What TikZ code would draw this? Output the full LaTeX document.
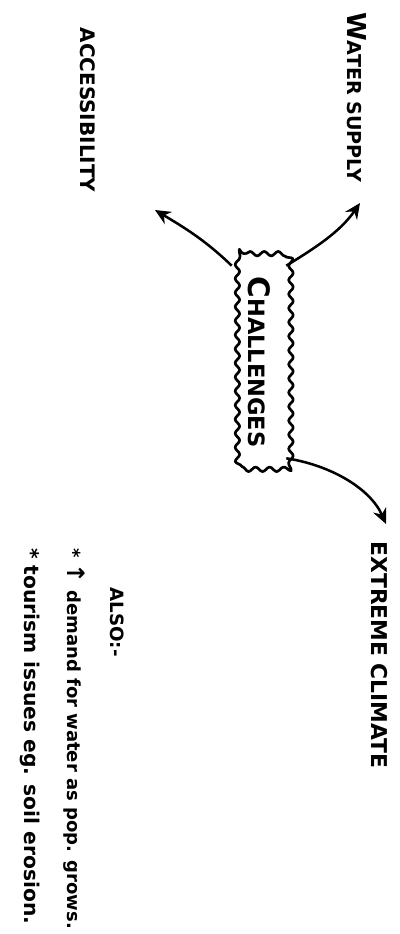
\documentclass[tikz,border=0pt]{standalone}
\usepackage{fontspec}
\setmainfont{DejaVu Sans}
\usetikzlibrary{arrows.meta,decorations.pathmorphing,calc}
\begin{document}
\begin{tikzpicture}[x=0.025cm,y=-0.025cm,
  lbl/.style={rotate=-90,inner sep=0pt,font=\bfseries\fontsize{14}{14}\selectfont},
  note/.style={rotate=-90,inner sep=0pt,anchor=west},
  chalnode/.style={rotate=-90,inner sep=0pt,minimum width=5.4cm,minimum height=1.35cm,
    font=\bfseries\fontsize{16}{16}\selectfont},
  wavy/.style={line width=1.9pt,line join=round,decorate,
    decoration={snake,amplitude=1.6pt,segment length=10pt}},
  arr/.style={line width=1.8pt,-{Stealth[length=11pt,width=10pt]}}]
\useasboundingbox (0,0) rectangle (400,934);
\node[chalnode] (chal) at (259,362) {{\fontsize{21}{21}\selectfont C}HALLENGES};
\draw[wavy]
  ($(chal.south west)+(14,0)$) -- ($(chal.north west)+(-14,0)$)
  .. controls (chal.north west) .. ($(chal.north west)+(0,14)$)
  -- ($(chal.north east)+(0,-14)$)
  .. controls (chal.north east) .. ($(chal.north east)+(-14,0)$)
  -- ($(chal.south east)+(14,0)$)
  .. controls (chal.south east) .. ($(chal.south east)+(0,-14)$)
  -- ($(chal.south west)+(0,14)$)
  .. controls (chal.south west) .. cycle;
\node[lbl,font=\bfseries\fontsize{13.6}{13.6}\selectfont] (water) at (357,97) {{\fontsize{18.5}{18.5}\selectfont W}ATER SUPPLY};
\node[lbl,font=\bfseries\fontsize{14.2}{14.2}\selectfont] (access) at (88,110) {ACCESSIBILITY};
\node[lbl,font=\bfseries\fontsize{15.5}{15.5}\selectfont] (extreme) at (379,655) {EXTREME CLIMATE};
\node[lbl,font=\bfseries\fontsize{13}{13}\selectfont] (also) at (117,622) {ALSO:-};
\node[note,font=\bfseries\fontsize{12.8}{12.8}\selectfont] (n1) at (74,548) {* {\fontsize{17}{17}\selectfont ↑} demand for water as pop. grows.};
\node[note,font=\bfseries\fontsize{14.4}{14.4}\selectfont] (n2) at (30,548) {* tourism issues eg. soil erosion.};
\coordinate (tipA) at (155,210);
\coordinate (tipW) at (360,203);
\coordinate (tipE) at (386,524);
\draw[arr] ($(chal.south west)+(0,12)$) .. controls (205,240) and (185,228) .. (tipA);
\draw[arr] ($(chal.north west)+(0,12)$) .. controls (315,248) and (340,232) .. (tipW);
\draw[arr] ($(chal.north east)+(0,-12)$) .. controls (330,465) and (370,488) .. (tipE);
\end{tikzpicture}
\end{document}
